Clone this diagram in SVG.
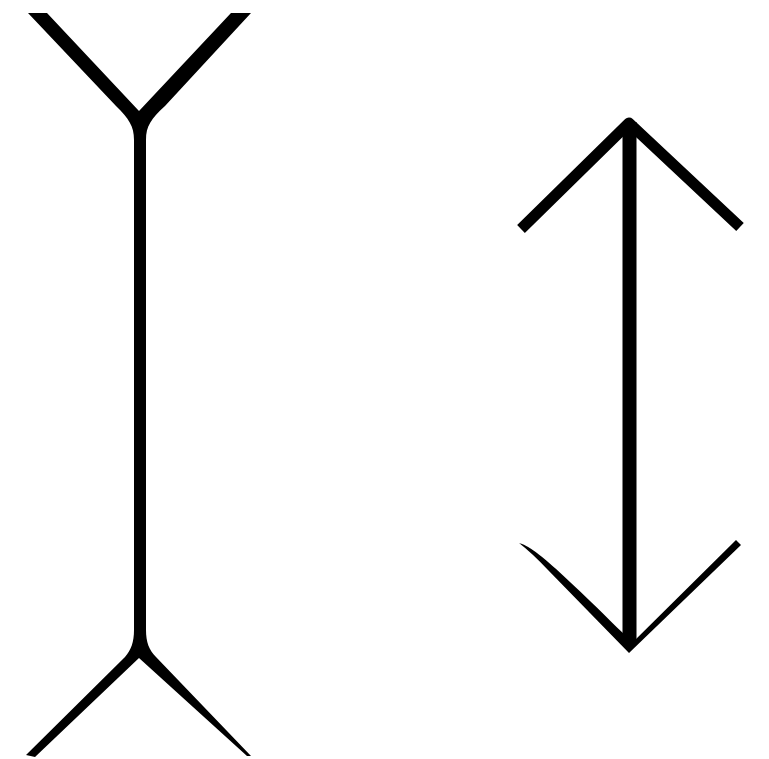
<svg xmlns="http://www.w3.org/2000/svg" width="769" height="759" viewBox="0 0 769 759">
<style>.ink{fill:#000;stroke:none}.arm{fill:none;stroke:#000;stroke-width:11;stroke-linejoin:round;stroke-linecap:butt}</style>
<rect width="769" height="759" fill="#fff"/>
<g id="fins-out">
<path class="ink" d="M28,13 L47,13 L139,111 L231,13 L251,13 L165,106 C151,119 146,126 146,140 L146,630 C146,642 149,650 156,657 L251,756 L247,756 L139,658 L35,757 L26,755 L125,657 C131,650 134,642 134,630 L134,140 C134,126 129,119 116,106 Z"/>
</g>
<g id="fins-in">
<rect class="ink" x="622.5" y="122" width="14" height="523"/>
<polyline class="arm" points="521,229 629,123 740,227"/>
<path class="ink" d="M519,543 C532,547 545,556 624,634 L624,643 L632,643 L736,540 L741,545 L629,653 L548,570 Q532,553 519,543 Z"/>
</g>
</svg>
